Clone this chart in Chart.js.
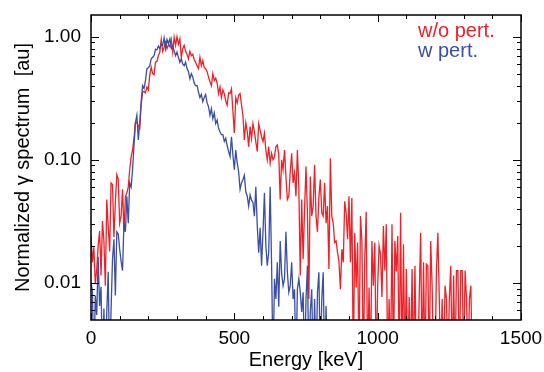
<!DOCTYPE html>
<html><head><meta charset="utf-8">
<script src="https://cdn.jsdelivr.net/npm/chart.js@4.4.0/dist/chart.umd.min.js"></script>
<style>html,body{margin:0;padding:0;background:#fff;}#wrap{width:544px;height:372px;}</style>
</head><body><div id="wrap"><canvas id="c" width="544" height="372"></canvas></div>
<script>
// Energy bins (keV) – bin width of the histogram
const BIN_KEV = 5;
const xTickLabels = [0, 500, 1000, 1500];
const yTickLabels = [0.01, 0.1, 1];
const seriesNames = ['w/o pert.', 'w pert.'];
const axisTitles = ['Energy [keV]', 'Normalized \u03b3 spectrum  [au]'];

// w/o pert. (red), bins 0..1330 keV; 0 = empty bin
const redValues = [
  0.0241,0.0147,0.0195,0.0098,0.013,0.02,0.0264,0.0115,0.0318,0.022,
  0.0095,0.0476,0.029,0.018,0.0649,0.063,0.0235,0.045,0.0757,0.07,
  0.0305,0.035,0.0575,0.026,0.05,0.054,0.06,0.083,0.106,0.12,
  0.15,0.20,0.20,0.19,0.18,0.28,0.355,0.36,0.35,0.39,
  0.37,0.49,0.565,0.50,0.49,0.62,0.63,0.70,0.75,0.95,
  0.76,0.82,0.90,0.80,0.86,0.83,0.95,0.75,0.99,0.85,
  1.0,0.87,0.96,0.68,0.80,0.85,0.76,0.72,0.66,0.76,
  0.70,0.72,0.65,0.62,0.58,0.55,0.68,0.58,0.64,0.56,
  0.55,0.52,0.47,0.43,0.40,0.50,0.44,0.46,0.42,0.345,
  0.39,0.32,0.37,0.345,0.30,0.278,0.35,0.345,0.377,0.25,
  0.165,0.32,0.29,0.335,0.345,0.28,0.23,0.145,0.20,0.17,
  0.128,
  0.186,0.149,0.197,0.169,0.14,0.117,0.197,0.174,0.154,0.141,
  0.164,0.12,0.10,0.128,0.094,0.113,0.10,0.106,0.128,0.132,
  0.11,0.0476,0.10,0.083,0.12,0.0733,0.0476,0.0506,0.08,0.113,
  0.065,0.078,0.0506,0.12,0.06,0.0115,0.0476,0.0156,0.0397,0.088,
  0.0371,0.0074,0.0733,0.0349,0.0421,0.091,0.0349,0.026,0.05,0.069,
  0.0371,0.0349,0.065,0.0305,0.0421,0.013,0.103,0.0349,0.0305,0.0213,
  0.0219,0.0176,0.015,
  0.0089,0.0188,0.0147,0.046,0.0371,0.0226,0.0506,0.0147,0.049,0,
  0.0256,0.0092,0.0213,0,0.0349,0.0219,0,0.0156,0.0378,0,
  0.0092,0,0.0219,0.0095,0.0213,0,0.0095,0.02,0.0171,0.0077,
  0.029,0.0126,0.0299,0,0.0074,0,0.0299,0,0.0219,0.0124,
  0.0241,0,0.0371,0,0.0206,0,0.013,0,0.0077,0,
  0.013,0,0.0138,0,0,0.0079,0.0256,0,0.0147,0,
  0.0142,0.0138,0,0.0219,0.0095,0,0,0.0126,0.0256,0.0074,
  0,0.0074,0,0.0095,0.0074,0,0.0074,0.0138,0,0.0115,
  0,0.0126,0.0126,0,0.0126,0.0126,0,0.0126,0.0074,0,
  0.0074,0.0095,0
];

// w pert. (blue), bins 0..825 keV; 0 = empty bin
const blueValues = [
  0.0102,0.0085,0,0.0079,0.0055,0.0163,0.0065,0.0093,0,0.0062,
  0,0.0058,0.0123,0,0.006,0.0156,0.0226,0.0079,0.026,0.025,
  0.0188,0.015,0.0126,0.0308,0.026,0.0506,0.0305,0.065,0.06,0.083,
  0.13,0.20,0.23,0.145,0.20,0.296,0.40,0.38,0.44,0.55,
  0.56,0.58,0.66,0.68,0.70,0.79,0.78,0.84,0.80,0.87,
  0.85,0.98,0.80,0.95,0.88,0.96,0.80,0.84,0.77,0.70,
  0.75,0.68,0.62,0.66,0.60,0.58,0.62,0.55,0.52,0.455,
  0.50,0.47,0.42,0.40,0.40,0.355,0.32,0.34,0.296,0.32,
  0.34,0.29,0.27,0.23,0.26,0.216,0.24,0.197,0.21,0.18,
  0.169,0.16,0.16,0.141,0.15,0.13,
  0.117,0.106,0.154,0.11,0.083,0.12,0.095,0.08,0.0575,0.065,
  0.069,0.075,0.055,0.0506,0.0421,0.052,0.047,0.045,0.0349,0.0604,
  0.029,0.0176,0.028,0.0138,0.026,0.054,0.02,0.0138,0.018,0.0604,
  0.0138,0,0.0108,0.0074,0.0147,0.0064,0.0219,0.012,0.0095,0.0108,
  0.026,0.0122,0.0084,0.0095,0.0147,0.0074,0.0089,0,0.0089,0.0108,
  0.0084,0.0058,0.0084,0,0.0074,0.0138,0,0.0058,0.0089,0,
  0.0074,0,0.0084,0.0122,0,0.0074,0.0122,0,0.0065,0
];

const RED = '#ee2128';
const BLUE = '#3a4fa2';
const EMPTY_BIN = 0.002; // below the axis minimum, so empty bins drop off the frame

function toPoints(vals) {
  return vals.map((v, i) => ({ x: i * BIN_KEV, y: v > 0 ? v : EMPTY_BIN }));
}

Chart.defaults.font.family = '"Liberation Sans", Arial, Helvetica, sans-serif';
Chart.defaults.color = '#000';

const frameTicks = {
  id: 'frameTicks',
  afterDraw(chart) {
    const { ctx, chartArea: { left, right, top, bottom }, scales: { x, y } } = chart;
    ctx.save();
    ctx.strokeStyle = '#000';
    ctx.lineWidth = 1;
    ctx.beginPath();
    for (let e = x.min; e <= x.max; e += 100) {
      const px = Math.round(x.getPixelForValue(e)) + 0.5;
      const len = (e % 500 === 0) ? 7 : 4;
      ctx.moveTo(px, bottom); ctx.lineTo(px, bottom - len);
      ctx.moveTo(px, top); ctx.lineTo(px, top + len);
    }
    for (let d = -3; d <= 0; d++) {
      for (let m = 1; m <= 9; m++) {
        const v = m * Math.pow(10, d);
        if (v <= y.min * 1.0001 || v > y.max) continue;
        const py = Math.round(y.getPixelForValue(v)) + 0.5;
        const len = m === 1 ? 8 : 4;
        ctx.moveTo(left, py); ctx.lineTo(left + len, py);
        ctx.moveTo(right, py); ctx.lineTo(right - len, py);
      }
    }
    ctx.stroke();
    ctx.lineWidth = 1.5;
    ctx.strokeRect(left, top, right - left, bottom - top);
    // legend text
    ctx.font = '20px "Liberation Sans", Arial, sans-serif';
    ctx.textAlign = 'left';
    ctx.textBaseline = 'alphabetic';
    ctx.fillStyle = RED;
    ctx.fillText(seriesNames[0], right - 103, top + 22);
    ctx.fillStyle = BLUE;
    ctx.fillText(seriesNames[1], right - 103, top + 42);
    ctx.restore();
  }
};

new Chart(document.getElementById('c'), {
  type: 'line',
  data: {
    datasets: [
      { label: seriesNames[1], data: toPoints(blueValues), borderColor: BLUE, borderWidth: 1.3, pointRadius: 0, tension: 0, clip: 0 },
      { label: seriesNames[0], data: toPoints(redValues), borderColor: RED, borderWidth: 1.3, pointRadius: 0, tension: 0, clip: 0 }
    ]
  },
  options: {
    responsive: false,
    animation: false,
    devicePixelRatio: 1,
    layout: { padding: { left: 0, right: 23, top: 15, bottom: 0 } },
    plugins: { legend: { display: false }, tooltip: { enabled: false } },
    scales: {
      x: {
        type: 'linear', min: 0, max: 1500,
        grid: { display: false, drawTicks: false },
        border: { display: false },
        ticks: {
          stepSize: 500, autoSkip: false, maxRotation: 0, padding: 7,
          font: { size: 19 },
          callback: v => xTickLabels.includes(v) ? String(v) : ''
        },
        title: { display: true, text: axisTitles[0], font: { size: 20 }, padding: { top: 0, bottom: 0 } },
        afterFit: s => { s.height = 52; s.paddingLeft = 0; s.paddingRight = 0; }
      },
      y: {
        type: 'logarithmic', min: 0.005, max: 1.5,
        grid: { display: false, drawTicks: false },
        border: { display: false },
        ticks: {
          autoSkip: false, padding: 10,
          font: { size: 19 },
          callback: v => yTickLabels.some(t => Math.abs(t - v) < t * 1e-6) ? Number(v).toFixed(2) : ''
        },
        title: { display: true, text: axisTitles[1], font: { size: 20 }, padding: { top: 11, bottom: 0 } },
        afterFit: s => { s.width = 91; s.paddingTop = 0; s.paddingBottom = 0; }
      }
    }
  },
  plugins: [frameTicks]
});
</script>
</body></html>
